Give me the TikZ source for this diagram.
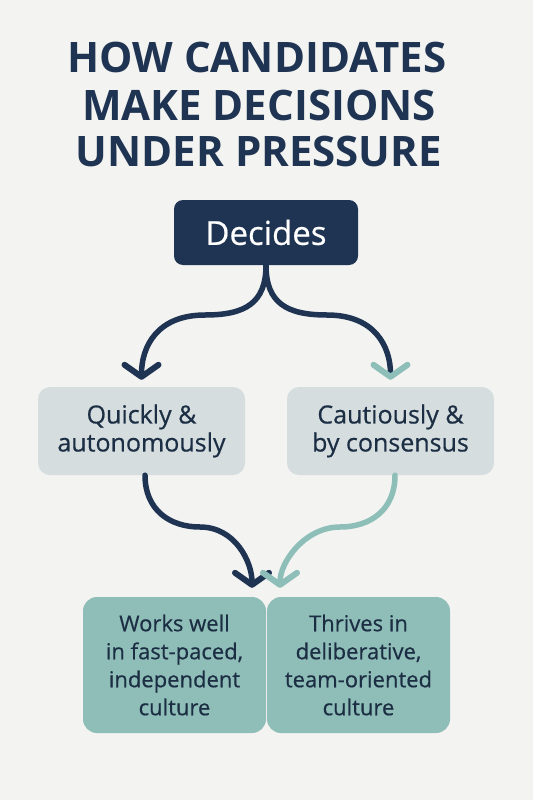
\documentclass[tikz,border=0pt]{standalone}
\usepackage{fontspec}
\setmainfont{Open Sans}
\newfontfamily\medfont{Open Sans}[FakeBold=0.5]
\usetikzlibrary{arrows.meta}
\definecolor{bg}{HTML}{F3F3F1}
\definecolor{navy}{HTML}{1F3452}
\definecolor{lightbox}{HTML}{D5DDDF}
\definecolor{tealbox}{HTML}{8FBDB7}
\definecolor{tealarrow}{HTML}{8DBFB8}
\definecolor{darktext}{HTML}{1C2E44}
\begin{document}
\begin{tikzpicture}[x=1pt,y=-1pt,
  titleline/.style={font=\fontsize{42}{47}\selectfont\bfseries, text=navy, anchor=base, inner sep=0pt},
  topbox/.style={fill=navy, rounded corners=9pt, minimum width=184pt, minimum height=65pt, text=white, font=\medfont\fontsize{33}{38}\selectfont, inner sep=0pt},
  midbox/.style={fill=lightbox, rounded corners=12pt, minimum width=207pt, minimum height=88pt, text=darktext, align=center, font=\medfont\fontsize{25}{28}\selectfont, inner sep=0pt},
  botbox/.style={fill=tealbox, rounded corners=14pt, minimum width=183pt, minimum height=136pt, text=darktext, align=center, font=\medfont\fontsize{22}{28}\selectfont, inner sep=0pt},
  conn/.style={line width=5.5pt, line cap=round},
  chev/.style={-{Straight Barb[length=12pt,width=34pt,line width=6pt,round,color=#1]}},
]
\useasboundingbox (0,0) rectangle (533,800);
\fill[bg] (0,0) rectangle (533,800);

\node[titleline] (t1) at (257,73) {HOW CANDIDATES};
\node[titleline] (t2) at (259,120) {MAKE DECISIONS};
\node[titleline] (t3) at (259,166) {UNDER PRESSURE};

\node[topbox] (decides) at (266,232.5) {Decides};

\node[midbox] (quick) at (141.5,431) {Quickly \&\\autonomously};
\node[midbox] (caution) at (390.5,431) {Cautiously \&\\by consensus};

\node[botbox] (fast) at (174.5,665) {Works well\\in fast-paced,\\independent\\culture};
\node[botbox] (thrive) at (358.5,665) {Thrives in\\deliberative,\\team-oriented\\culture};

\draw[conn, navy, chev=navy, shorten >=7pt] (decides.south) .. controls +(0,38) and +(40,0) .. (205,315)
  .. controls +(-48,0) and +(0,-40) .. (quick.north);
\draw[conn, navy, chev=tealarrow, shorten >=7pt] (decides.south) .. controls +(0,38) and +(-40,0) .. (327,315)
  .. controls +(48,0) and +(0,-40) .. (caution.north);

\draw[conn, navy, chev=navy, shorten >=9pt] ([xshift=3.5pt]quick.south) .. controls +(0,35) and +(-30,0) .. (200,527)
  .. controls +(35,0) and +(0,-35) .. ([xshift=77.5pt]fast.north);
\draw[conn, tealarrow, chev=tealarrow, shorten >=9pt] ([xshift=4.5pt]caution.south) .. controls +(0,35) and +(30,0) .. (340,527)
  .. controls +(-35,0) and +(0,-35) .. ([xshift=-78.5pt]thrive.north);
\end{tikzpicture}
\end{document}
